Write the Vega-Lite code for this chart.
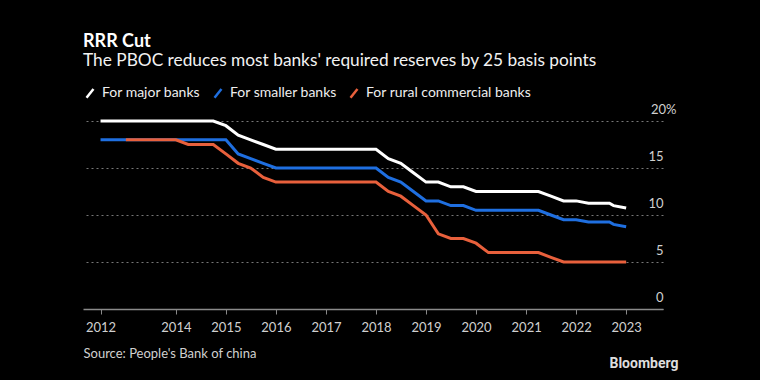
{
  "$schema": "https://vega.github.io/schema/vega-lite/v6.json",
  "background": "#000000",
  "autosize": {"type": "none"},
  "padding": {"left": 83, "top": 121, "right": 97, "bottom": 71},
  "width": 580,
  "height": 188,
  "title": {
    "text": "RRR Cut",
    "subtitle": "The PBOC reduces most banks' required reserves by 25 basis points",
    "anchor": "start",
    "frame": "group",
    "font": "Lato",
    "fontSize": 18,
    "fontWeight": "bold",
    "color": "#ffffff",
    "subtitleFont": "Lato",
    "subtitleFontSize": 17.3,
    "subtitleColor": "#f2f2f2",
    "subtitlePadding": 1,
    "offset": 14
  },
  "data": {
    "values": [
      {"date": "2012-06-30", "series": "For major banks", "rate": 20},
      {"date": "2014-10-01", "series": "For major banks", "rate": 20},
      {"date": "2015-01-01", "series": "For major banks", "rate": 19.5},
      {"date": "2015-04-01", "series": "For major banks", "rate": 18.5},
      {"date": "2015-07-01", "series": "For major banks", "rate": 18},
      {"date": "2015-10-01", "series": "For major banks", "rate": 17.5},
      {"date": "2016-01-01", "series": "For major banks", "rate": 17},
      {"date": "2018-01-01", "series": "For major banks", "rate": 17},
      {"date": "2018-04-01", "series": "For major banks", "rate": 16},
      {"date": "2018-07-01", "series": "For major banks", "rate": 15.5},
      {"date": "2018-10-01", "series": "For major banks", "rate": 14.5},
      {"date": "2019-01-01", "series": "For major banks", "rate": 13.5},
      {"date": "2019-04-01", "series": "For major banks", "rate": 13.5},
      {"date": "2019-07-01", "series": "For major banks", "rate": 13},
      {"date": "2019-10-01", "series": "For major banks", "rate": 13},
      {"date": "2020-01-01", "series": "For major banks", "rate": 12.5},
      {"date": "2021-04-01", "series": "For major banks", "rate": 12.5},
      {"date": "2021-07-01", "series": "For major banks", "rate": 12},
      {"date": "2021-10-01", "series": "For major banks", "rate": 11.5},
      {"date": "2022-01-01", "series": "For major banks", "rate": 11.5},
      {"date": "2022-04-01", "series": "For major banks", "rate": 11.25},
      {"date": "2022-09-01", "series": "For major banks", "rate": 11.25},
      {"date": "2022-10-01", "series": "For major banks", "rate": 11},
      {"date": "2023-01-01", "series": "For major banks", "rate": 10.75},

      {"date": "2012-06-30", "series": "For smaller banks", "rate": 18},
      {"date": "2015-01-01", "series": "For smaller banks", "rate": 18},
      {"date": "2015-04-01", "series": "For smaller banks", "rate": 16.5},
      {"date": "2015-07-01", "series": "For smaller banks", "rate": 16},
      {"date": "2015-10-01", "series": "For smaller banks", "rate": 15.5},
      {"date": "2016-01-01", "series": "For smaller banks", "rate": 15},
      {"date": "2018-01-01", "series": "For smaller banks", "rate": 15},
      {"date": "2018-04-01", "series": "For smaller banks", "rate": 14},
      {"date": "2018-07-01", "series": "For smaller banks", "rate": 13.5},
      {"date": "2018-10-01", "series": "For smaller banks", "rate": 12.5},
      {"date": "2019-01-01", "series": "For smaller banks", "rate": 11.5},
      {"date": "2019-04-01", "series": "For smaller banks", "rate": 11.5},
      {"date": "2019-07-01", "series": "For smaller banks", "rate": 11},
      {"date": "2019-10-01", "series": "For smaller banks", "rate": 11},
      {"date": "2020-01-01", "series": "For smaller banks", "rate": 10.5},
      {"date": "2021-04-01", "series": "For smaller banks", "rate": 10.5},
      {"date": "2021-07-01", "series": "For smaller banks", "rate": 10},
      {"date": "2021-10-01", "series": "For smaller banks", "rate": 9.5},
      {"date": "2022-01-01", "series": "For smaller banks", "rate": 9.5},
      {"date": "2022-04-01", "series": "For smaller banks", "rate": 9.25},
      {"date": "2022-09-01", "series": "For smaller banks", "rate": 9.25},
      {"date": "2022-10-01", "series": "For smaller banks", "rate": 9},
      {"date": "2023-01-01", "series": "For smaller banks", "rate": 8.75},

      {"date": "2013-01-01", "series": "For rural commercial banks", "rate": 18},
      {"date": "2014-01-01", "series": "For rural commercial banks", "rate": 18},
      {"date": "2014-04-01", "series": "For rural commercial banks", "rate": 17.5},
      {"date": "2014-10-01", "series": "For rural commercial banks", "rate": 17.5},
      {"date": "2015-01-01", "series": "For rural commercial banks", "rate": 16.5},
      {"date": "2015-04-01", "series": "For rural commercial banks", "rate": 15.5},
      {"date": "2015-07-01", "series": "For rural commercial banks", "rate": 15},
      {"date": "2015-10-01", "series": "For rural commercial banks", "rate": 14},
      {"date": "2016-01-01", "series": "For rural commercial banks", "rate": 13.5},
      {"date": "2018-01-01", "series": "For rural commercial banks", "rate": 13.5},
      {"date": "2018-04-01", "series": "For rural commercial banks", "rate": 12.5},
      {"date": "2018-07-01", "series": "For rural commercial banks", "rate": 12},
      {"date": "2018-10-01", "series": "For rural commercial banks", "rate": 11},
      {"date": "2019-01-01", "series": "For rural commercial banks", "rate": 10},
      {"date": "2019-04-01", "series": "For rural commercial banks", "rate": 8},
      {"date": "2019-07-01", "series": "For rural commercial banks", "rate": 7.5},
      {"date": "2019-10-01", "series": "For rural commercial banks", "rate": 7.5},
      {"date": "2020-01-01", "series": "For rural commercial banks", "rate": 7},
      {"date": "2020-04-01", "series": "For rural commercial banks", "rate": 6},
      {"date": "2021-04-01", "series": "For rural commercial banks", "rate": 6},
      {"date": "2021-07-01", "series": "For rural commercial banks", "rate": 5.5},
      {"date": "2021-10-01", "series": "For rural commercial banks", "rate": 5},
      {"date": "2023-01-01", "series": "For rural commercial banks", "rate": 5}
    ]
  },
  "mark": {"type": "line", "strokeWidth": 3, "clip": false},
  "encoding": {
    "x": {
      "field": "date",
      "type": "temporal",
      "scale": {
        "type": "utc",
        "domain": [
          {"year": 2012, "month": 2, "date": 23, "utc": true},
          {"year": 2023, "month": 9, "date": 27, "utc": true}
        ]
      },
      "axis": {
        "values": [
          {"year": 2012, "month": 6, "date": 30, "utc": true},
          {"year": 2014, "month": 1, "date": 1, "utc": true},
          {"year": 2015, "month": 1, "date": 1, "utc": true},
          {"year": 2016, "month": 1, "date": 1, "utc": true},
          {"year": 2017, "month": 1, "date": 1, "utc": true},
          {"year": 2018, "month": 1, "date": 1, "utc": true},
          {"year": 2019, "month": 1, "date": 1, "utc": true},
          {"year": 2020, "month": 1, "date": 1, "utc": true},
          {"year": 2021, "month": 1, "date": 1, "utc": true},
          {"year": 2022, "month": 1, "date": 1, "utc": true},
          {"year": 2023, "month": 1, "date": 1, "utc": true}
        ],
        "labelExpr": "utcFormat(datum.value, '%Y')",
        "grid": false,
        "domainColor": "#8a8a8a",
        "domainWidth": 1.5,
        "tickColor": "#8a8a8a",
        "tickSize": 5,
        "tickWidth": 1,
        "labelColor": "#d0d0d0",
        "labelFont": "Lato",
        "labelFontSize": 13,
        "labelPadding": 7,
        "labelBaseline": "top",
        "title": "Source: People's Bank of china",
        "titleFont": "Lato",
        "titleFontSize": 13,
        "titleFontWeight": "normal",
        "titleColor": "#d0d0d0",
        "titleAlign": "left",
        "titleBaseline": "middle",
        "titleX": 0,
        "titleY": 44
      }
    },
    "y": {
      "field": "rate",
      "type": "quantitative",
      "scale": {"domain": [0, 20], "nice": false},
      "axis": {
        "orient": "right",
        "values": [0, 5, 10, 15, 20],
        "labelExpr": "datum.value == 20 ? '20%' : datum.label",
        "grid": true,
        "gridColor": "#777777",
        "gridDash": [2, 3],
        "gridWidth": 1,
        "domain": false,
        "ticks": false,
        "labelAlign": "right",
        "labelBaseline": "alphabetic",
        "labelOffset": -8,
        "labelPadding": {"condition": {"test": "datum.value == 20", "value": 13}, "value": 0},
        "labelColor": "#d0d0d0",
        "labelFont": "Lato",
        "labelFontSize": 13,
        "title": "Bloomberg",
        "titleAngle": 0,
        "titleFont": "Roboto",
        "titleFontSize": 14,
        "titleFontWeight": "bold",
        "titleColor": "#dddddd",
        "titleAlign": "right",
        "titleBaseline": "middle",
        "titleX": 15,
        "titleY": 242
      }
    },
    "color": {
      "field": "series",
      "type": "nominal",
      "scale": {
        "domain": ["For major banks", "For smaller banks", "For rural commercial banks"],
        "range": ["#ffffff", "#1f6fe0", "#e8603c"]
      },
      "legend": {
        "orient": "none",
        "legendX": -3,
        "legendY": -38,
        "direction": "horizontal",
        "title": null,
        "symbolType": "M-0.4,0.5L0.4,-0.5",
        "symbolSize": 300,
        "symbolStrokeWidth": 2.5,
        "labelFont": "Lato",
        "labelFontSize": 14,
        "labelColor": "#eeeeee",
        "labelLimit": 0,
        "labelOffset": 2,
        "columnPadding": 7
      }
    }
  },
  "config": {
    "view": {"stroke": null}
  }
}
